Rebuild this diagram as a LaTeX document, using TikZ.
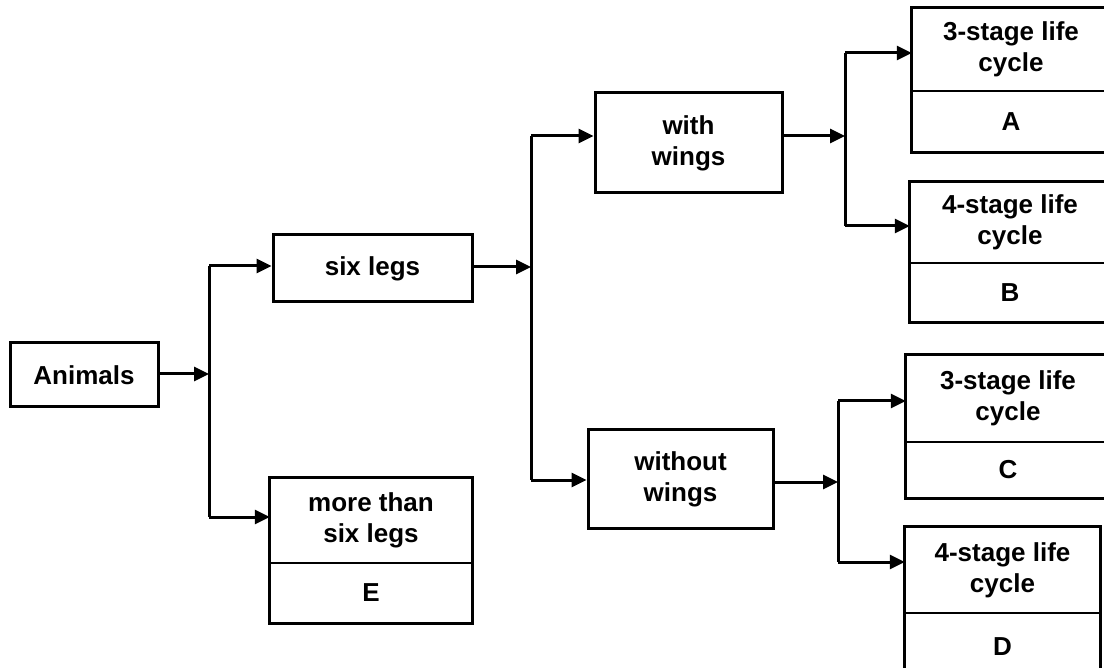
\documentclass[tikz,border=0pt]{standalone}
\usepackage{fontspec}
\setmainfont{Liberation Sans}
\usetikzlibrary{arrows.meta,fit}
\begin{document}
\begin{tikzpicture}[x=1pt,y=-1pt,
  txt/.style={font=\fontsize{26}{31}\selectfont\bfseries},
  box/.style={txt, draw, line width=3pt, inner sep=0pt, align=center},
  cell/.style={txt, inner sep=0pt, align=center},
  frame/.style={draw, line width=3.2pt, inner sep=0pt},
  divider/.style={line width=2pt},
  conn/.style={line width=3pt, line join=miter},
  arr/.style={conn, -{Triangle[length=15pt,width=14pt]}}]
\useasboundingbox (0,0) rectangle (1104,668);

% single boxes
\node[box, minimum width=148pt, minimum height=64pt] (animals) at (84,375) {Animals};
\node[box, minimum width=199pt, minimum height=67pt] (six) at (372.5,268.5) {six legs};
\node[box, minimum width=187pt, minimum height=100pt] (with) at (688.5,143) {with\\wings};
\node[box, minimum width=185pt, minimum height=98pt] (without) at (680.5,479) {without\\wings};

% two-part boxes
\node[cell, minimum width=202pt, minimum height=85pt] (moret) at (371,520.5) {more than\\six legs};
\node[cell, minimum width=202pt, minimum height=60pt] (moreb) at (371,593) {E};
\node[frame, fit=(moret)(moreb)] (more) {};
\draw[divider] (moret.south west) -- (moret.south east);

\node[cell, minimum width=198pt, minimum height=83pt] (at) at (1011,49.5) {3-stage life\\cycle};
\node[cell, minimum width=198pt, minimum height=61pt] (ab) at (1011,121.5) {A};
\node[frame, fit=(at)(ab)] (boxa) {};
\draw[divider] (at.south west) -- (at.south east);

\node[cell, minimum width=200pt, minimum height=81pt] (bt) at (1010,222.5) {4-stage life\\cycle};
\node[cell, minimum width=200pt, minimum height=59pt] (bb) at (1010,292.5) {B};
\node[frame, fit=(bt)(bb)] (boxb) {};
\draw[divider] (bt.south west) -- (bt.south east);

\node[cell, minimum width=204pt, minimum height=87pt] (ct) at (1008,398.5) {3-stage life\\cycle};
\node[cell, minimum width=204pt, minimum height=56pt] (cb) at (1008,470) {C};
\node[frame, fit=(ct)(cb)] (boxc) {};
\draw[divider] (ct.south west) -- (ct.south east);

\node[cell, minimum width=195pt, minimum height=86pt] (dt) at (1002.5,570) {4-stage life\\cycle};
\node[cell, minimum width=195pt, minimum height=67pt] (db) at (1002.5,646.5) {D};
\node[frame, fit=(dt)(db)] (boxd) {};
\draw[divider] (dt.south west) -- (dt.south east);

% junctions
\coordinate (j1) at (209,374);
\coordinate (j1t) at (209,266);
\coordinate (j1b) at (209,517);
\coordinate (j2) at (531,267);
\coordinate (j2t) at (531,136);
\coordinate (j2b) at (531,480);
\coordinate (j3) at (845,136);
\coordinate (j3t) at (845,53);
\coordinate (j3b) at (845,226);
\coordinate (j4) at (838,482);
\coordinate (j4t) at (838,401);
\coordinate (j4b) at (838,562);

% connectors
\draw[arr] (animals.east |- j1) -- (j1);
\draw[conn] (j1t) -- (j1b);
\draw[arr] (j1t) -- (six.west |- j1t);
\draw[arr] (j1b) -- (moret.west |- j1b);

\draw[arr] (six.east |- j2) -- (j2);
\draw[conn] (j2t) -- (j2b);
\draw[arr] (j2t) -- (with.west |- j2t);
\draw[arr] (j2b) -- (without.west |- j2b);

\draw[arr] (with.east |- j3) -- (j3);
\draw[conn] (j3t) -- (j3b);
\draw[arr] (j3t) -- (at.west |- j3t);
\draw[arr] (j3b) -- (bt.west |- j3b);

\draw[arr] (without.east |- j4) -- (j4);
\draw[conn] (j4t) -- (j4b);
\draw[arr] (j4t) -- (ct.west |- j4t);
\draw[arr] (j4b) -- (dt.west |- j4b);
\end{tikzpicture}
\end{document}
